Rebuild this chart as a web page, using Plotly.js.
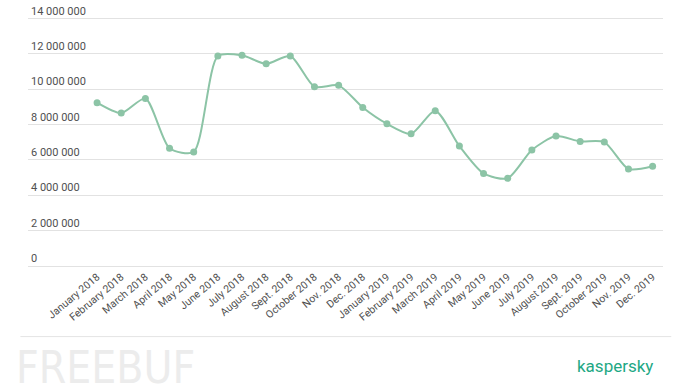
<!DOCTYPE html>
<html>
<head>
<meta charset="utf-8">
<script src="https://cdn.plot.ly/plotly-3.0.1.min.js"></script>
<style>
html,body{margin:0;padding:0;background:#fff;}
#chart{width:690px;height:392px;}
</style>
</head>
<body>
<div id="chart"></div>
<script>
const months = ["January 2018","February 2018","March 2018","April 2018","May 2018","June 2018","July 2018","August 2018","Sept. 2018","October 2018","Nov. 2018","Dec. 2018","January 2019","February 2019","March 2019","April 2019","May 2019","June 2019","July 2019","August 2019","Sept. 2019","October 2019","Nov. 2019","Dec. 2019"];
const values = [9240000,8650000,9480000,6660000,6450000,11880000,11920000,11440000,11880000,10140000,10220000,8970000,8050000,7480000,8790000,6790000,5240000,4960000,6560000,7350000,7050000,7010000,5490000,5640000];
const yTickVals = [0,2000000,4000000,6000000,8000000,10000000,12000000,14000000];
const yTickText = ["0","2 000 000","4 000 000","6 000 000","8 000 000","10 000 000","12 000 000","14 000 000"];

const trace = {
  x: months,
  y: values,
  type: "scatter",
  mode: "lines+markers",
  line: {color: "#8cc4a6", width: 2, shape: "spline", smoothing: 0.7},
  marker: {color: "#8cc4a6", size: 7},
  hoverinfo: "skip"
};

const layout = {
  width: 690, height: 392,
  margin: {l: 28, r: 27, t: 0, b: 124},
  paper_bgcolor: "#ffffff",
  plot_bgcolor: "#ffffff",
  showlegend: false,
  font: {family: "Roboto, Arial, sans-serif", color: "#505050"},
  xaxis: {
    type: "category",
    range: [-2.86, 23.43],
    showgrid: false,
    zeroline: false,
    showline: false,
    ticks: "",
    tickangle: -40,
    tickfont: {size: 10.5, color: "#505050"},
    automargin: false
  },
  yaxis: {
    range: [-113000, 15050000],
    tickvals: yTickVals,
    ticktext: yTickText,
    ticklabelposition: "inside top",
    showgrid: true,
    gridcolor: "#e2e2e2",
    gridwidth: 1,
    zeroline: false,
    showline: false,
    ticks: "",
    tickfont: {size: 11, color: "#505050"},
    automargin: false
  },
  shapes: [
    {type: "line", xref: "paper", yref: "paper", x0: -0.012, x1: 1.013, y0: -0.256, y1: -0.256,
     line: {color: "#e4e4e4", width: 1}}
  ],
  annotations: [
    {text: "kaspersky", xref: "paper", yref: "paper", x: 0.988, y: -0.365, xanchor: "right", yanchor: "middle",
     showarrow: false, font: {family: "Roboto, Arial, sans-serif", size: 17, color: "#1ea884"}},
    {text: "FREEBUF", xref: "paper", yref: "paper", x: -0.022, y: -0.37, xanchor: "left", yanchor: "middle",
     showarrow: false, font: {family: "DejaVu Sans Condensed, DejaVu Sans, Arial, sans-serif", size: 44, color: "#ececec"}}
  ]
};

Plotly.newPlot("chart", [trace], layout, {staticPlot: true, displayModeBar: false});
</script>
</body>
</html>
